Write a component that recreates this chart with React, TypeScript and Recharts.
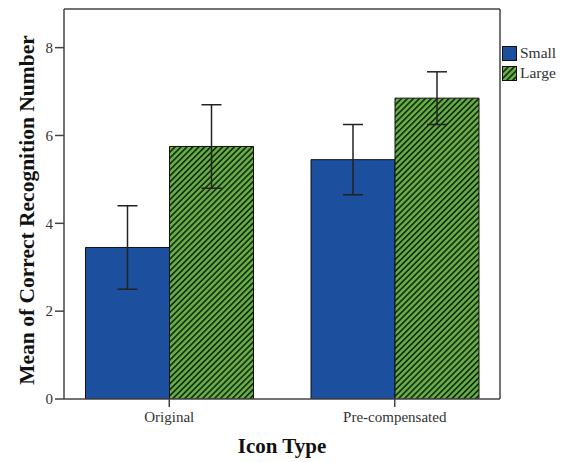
import { Bar, BarChart, ErrorBar, Legend, XAxis, YAxis } from "recharts";

const categories = ["Original", "Pre-compensated"];
const smallMean = [3.45, 5.45];
const smallLow = [2.5, 4.65];
const smallHigh = [4.4, 6.25];
const largeMean = [5.75, 6.85];
const largeLow = [4.8, 6.25];
const largeHigh = [6.7, 7.45];
const yTicks = [0, 2, 4, 6, 8];

const BLUE = "#1d4f9f";
const GREEN = "#67ad48";
const FONT = '"Liberation Serif", "Times New Roman", serif';

const data = categories.map((name, i) => ({
  name,
  small: smallMean[i],
  smallErr: [smallMean[i] - smallLow[i], smallHigh[i] - smallMean[i]],
  large: largeMean[i],
  largeErr: [largeMean[i] - largeLow[i], largeHigh[i] - largeMean[i]],
}));

function Hatch({ id }: { id: string }) {
  return (
    <pattern id={id} patternUnits="userSpaceOnUse" width={4.2} height={4.2} patternTransform="rotate(45)">
      <rect width={4.2} height={4.2} fill={GREEN} />
      <rect width={1.7} height={4.2} fill="#17300d" />
    </pattern>
  );
}

function LegendBox() {
  const row = (label: string, fill: string) => (
    <div style={{ display: "flex", alignItems: "center", height: 20 }}>
      <svg width={15} height={15} style={{ marginRight: 3 }}>
        <defs>
          <Hatch id="hatchLegend" />
        </defs>
        <rect x={0.5} y={0.5} width={14} height={14} fill={fill} stroke="#111" />
      </svg>
      <span style={{ fontFamily: FONT, fontSize: 15.5, color: "#333" }}>{label}</span>
    </div>
  );
  return (
    <div>
      {row("Small", BLUE)}
      {row("Large", "url(#hatchLegend)")}
    </div>
  );
}

function YTitle(props: any) {
  const vb = props.viewBox || {};
  const cy = (vb.y ?? 0) + (vb.height ?? 0) / 2 + 6;
  return (
    <text
      x={27}
      y={cy}
      transform={`rotate(-90, 27, ${cy})`}
      textAnchor="middle"
      dominantBaseline="central"
      style={{ fontFamily: FONT, fontSize: 21.5, fontWeight: "bold", fill: "#111" }}
    >
      Mean of Correct Recognition Number
    </text>
  );
}

export default function App() {
  return (
    <div style={{ position: "absolute", left: 0, top: 0, width: 565, height: 462, background: "#fff" }}>
      <BarChart
        width={565}
        height={462}
        data={data}
        margin={{ top: 8, right: 64, bottom: 0, left: 0 }}
        barCategoryGap={29}
        barGap={0}
      >
        <defs>
          <Hatch id="hatchBar" />
        </defs>
        <XAxis
          dataKey="name"
          height={63}
          padding={{ left: -7.5, right: -7.5 }}
          tickSize={8}
          tickMargin={4}
          tick={{ fontFamily: FONT, fontSize: 15, fill: "#333" }}
          tickLine={{ stroke: "#444", strokeWidth: 1.5 }}
          axisLine={{ stroke: "#444", strokeWidth: 1.5 }}
          label={{
            value: "Icon Type",
            position: "insideBottom",
            offset: 9,
            style: { fontFamily: FONT, fontSize: 21, fontWeight: "bold", fill: "#111" },
          }}
        />
        <XAxis
          xAxisId="top"
          dataKey="name"
          orientation="top"
          height={1}
          tick={false}
          tickLine={false}
          axisLine={{ stroke: "#444", strokeWidth: 1.5 }}
        />
        <YAxis
          width={64}
          domain={[0, 8.88]}
          ticks={yTicks}
          allowDataOverflow
          tickSize={9}
          tickMargin={2}
          tick={{ fontFamily: FONT, fontSize: 15, fill: "#333" }}
          tickLine={{ stroke: "#444", strokeWidth: 1.5 }}
          axisLine={{ stroke: "#444", strokeWidth: 1.5 }}
          label={<YTitle />}
        />
        <YAxis
          yAxisId="right"
          orientation="right"
          width={1}
          domain={[0, 8.88]}
          tick={false}
          tickLine={false}
          axisLine={{ stroke: "#444", strokeWidth: 1.5 }}
        />
        <Legend
          layout="horizontal"
          align="center"
          verticalAlign="middle"
          content={() => <LegendBox />}
          wrapperStyle={{ left: 502, top: 43, width: 63 }}
        />
        <Bar dataKey="small" name="Small" fill={BLUE} stroke="#111" strokeWidth={1} isAnimationActive={false}>
          <ErrorBar dataKey="smallErr" width={10} stroke="#222" strokeWidth={1.5} direction="y" />
        </Bar>
        <Bar dataKey="large" name="Large" fill="url(#hatchBar)" stroke="#111" strokeWidth={1} isAnimationActive={false}>
          <ErrorBar dataKey="largeErr" width={10} stroke="#222" strokeWidth={1.5} direction="y" />
        </Bar>
      </BarChart>
    </div>
  );
}
